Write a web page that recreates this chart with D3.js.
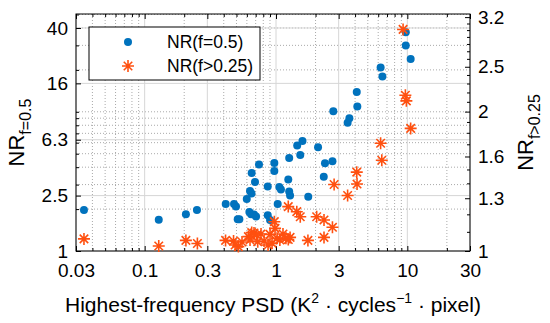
<!DOCTYPE html>
<html>
<head>
<meta charset="utf-8">
<script src="https://cdn.jsdelivr.net/npm/d3@7"></script>
<style>
body { margin: 0; background: #fff; }
text { font-family: "Liberation Sans", Arial, Helvetica, sans-serif; }
</style>
</head>
<body>
<div class="canvas"></div>
<script>
// NR(f=0.5), left axis
const blueX = [0.0345, 0.128, 0.206, 0.250, 0.414, 0.479, 0.496, 0.511, 0.526, 0.599,
  0.627, 0.646, 0.680, 0.705, 0.634, 0.651, 0.692, 0.653, 0.742, 0.865,
  0.865, 0.901, 0.971, 0.971, 1.03, 1.06, 1.09, 1.26, 1.24, 1.26,
  1.28, 1.45, 1.59, 1.53, 1.76, 2.09, 2.31, 2.36, 2.69, 2.73,
  3.51, 3.62, 4.12, 4.16, 6.26, 6.46, 9.73, 9.73, 10.6]
const blueY = [1.97, 1.68, 1.835, 1.97, 2.18, 2.18, 2.09, 1.69, 1.69, 2.36,
  1.91, 1.84, 1.83, 1.77, 2.70, 2.59, 3.13, 3.63, 4.18, 2.91,
  1.81, 1.67, 4.29, 3.75, 2.18, 2.88, 2.77, 4.66, 3.26, 2.68,
  2.50, 5.73, 6.17, 4.89, 2.45, 5.56, 3.42, 4.27, 4.41, 10.1,
  8.35, 8.98, 13.9, 10.9, 20.8, 17.9, 37.2, 29.9, 23.9]

// NR(f>0.25), right axis
const orangeX = [0.0345, 0.128, 0.206, 0.252, 0.413, 0.475, 0.488, 0.517, 0.551, 0.616,
  0.634, 0.653, 0.680, 0.713, 0.726, 0.769, 0.811, 0.870, 0.901, 0.933,
  0.971, 0.983, 1.02, 1.07, 1.13, 1.19, 1.24, 1.28, 1.24, 1.44,
  1.53, 1.75, 2.04, 2.32, 2.32, 2.69, 2.77, 3.51, 4.12, 4.14,
  6.26, 6.39, 9.28, 9.66, 9.83, 10.6]
const orangeY = [1.062, 1.025, 1.054, 1.038, 1.054, 1.051, 1.030, 1.022, 1.046, 1.074,
  1.056, 1.096, 1.094, 1.083, 1.047, 1.088, 1.051, 1.030, 1.086, 1.040,
  1.157, 1.119, 1.065, 1.056, 1.088, 1.065, 1.059, 1.070, 1.247, 1.216,
  1.186, 1.054, 1.186, 1.167, 1.070, 1.125, 1.392, 1.318, 1.480, 1.395,
  1.709, 1.570, 3.01, 2.17, 2.11, 1.84]

const xTicks = [0.03, 0.1, 0.3, 1, 3, 10, 30]
const xMinor = [0.04, 0.05, 0.06, 0.07, 0.08, 0.09, 0.2, 0.4, 0.5, 0.6, 0.7, 0.8, 0.9,
  2, 4, 5, 6, 7, 8, 9, 20]
const yLeftTicks = [1, 2.5, 6.3, 16, 40]
const yLeftMinor = [2, 3, 4, 5, 6, 7, 8, 9, 10, 20, 30, 40, 50]
const yRightTicks = [1, 1.3, 1.6, 2, 2.5, 3.2]
const yRightMinor = [1.1, 1.2, 1.4, 1.5, 1.7, 1.8, 1.9, 2.1, 2.2, 2.3, 2.4, 2.6, 2.7, 2.8, 2.9, 3.0, 3.1]

const W = 550, H = 323
const margin = {top: 14, right: 80, bottom: 72, left: 76}
const gw = W - margin.left - margin.right
const gh = H - margin.top - margin.bottom

const blue = '#0072bd'
const orange = '#ff5010'

const svg = d3.select('.canvas').append('svg')
  .attr('width', W)
  .attr('height', H)

const graph = svg.append('g')
  .attr('transform', `translate(${margin.left}, ${margin.top})`)

const x = d3.scaleLog().domain([0.03, 30]).range([0, gw])
const yL = d3.scaleLog().domain([1, 50.4]).range([gh, 0])
const yR = d3.scaleLog().domain([1, 3.25]).range([gh, 0])

// grid
const grid = graph.append('g')
grid.selectAll('.vminor').data(xMinor).enter().append('line')
  .attr('x1', d => x(d)).attr('x2', d => x(d))
  .attr('y1', 0).attr('y2', gh)
  .attr('stroke', '#aaa').attr('stroke-dasharray', '1,2')
grid.selectAll('.hminor').data(yLeftMinor).enter().append('line')
  .attr('x1', 0).attr('x2', gw)
  .attr('y1', d => yL(d)).attr('y2', d => yL(d))
  .attr('stroke', '#aaa').attr('stroke-dasharray', '1,2')
grid.selectAll('.vmajor').data(xTicks).enter().append('line')
  .attr('x1', d => x(d)).attr('x2', d => x(d))
  .attr('y1', 0).attr('y2', gh)
  .attr('stroke', '#d6d6d6')
grid.selectAll('.hmajor').data(yLeftTicks).enter().append('line')
  .attr('x1', 0).attr('x2', gw)
  .attr('y1', d => yL(d)).attr('y2', d => yL(d))
  .attr('stroke', '#d6d6d6')

// axes
const fmt = d => d
const styleAxis = g => {
  g.select('.domain').remove()
  g.selectAll('line').attr('stroke', '#000')
  g.selectAll('text').attr('font-size', 19).attr('fill', '#000')
    .style('font-family', '"Liberation Sans", Arial, sans-serif')
}

graph.append('g').attr('transform', `translate(0, ${gh})`)
  .call(d3.axisBottom(x).tickValues(xTicks).tickFormat(fmt).tickSize(-5).tickPadding(13))
  .call(styleAxis)
graph.append('g').attr('transform', `translate(0, ${gh})`)
  .call(d3.axisBottom(x).tickValues(xMinor).tickFormat('').tickSize(-3))
  .call(styleAxis)
graph.append('g')
  .call(d3.axisTop(x).tickValues(xTicks).tickFormat('').tickSize(-5))
  .call(styleAxis)
graph.append('g')
  .call(d3.axisTop(x).tickValues(xMinor).tickFormat('').tickSize(-3))
  .call(styleAxis)

graph.append('g')
  .call(d3.axisLeft(yL).tickValues(yLeftTicks).tickFormat(fmt).tickSize(-5).tickPadding(8))
  .call(styleAxis)
graph.append('g')
  .call(d3.axisLeft(yL).tickValues(yLeftMinor).tickFormat('').tickSize(-3))
  .call(styleAxis)

graph.append('g').attr('transform', `translate(${gw}, 0)`)
  .call(d3.axisRight(yR).tickValues(yRightTicks).tickFormat(fmt).tickSize(-5).tickPadding(8))
  .call(styleAxis)
graph.append('g').attr('transform', `translate(${gw}, 0)`)
  .call(d3.axisRight(yR).tickValues(yRightMinor).tickFormat('').tickSize(-3))
  .call(styleAxis)

graph.append('rect')
  .attr('width', gw).attr('height', gh)
  .attr('fill', 'none').attr('stroke', '#000').attr('stroke-width', 1)

// marks
graph.selectAll('.dot').data(blueX).enter().append('circle')
  .attr('cx', d => x(d))
  .attr('cy', (d, i) => yL(blueY[i]))
  .attr('r', 4)
  .attr('fill', blue)

const star = r => {
  const a = r * 0.7071
  return `M0,${-r}V${r}M${-r},0H${r}M${-a},${-a}L${a},${a}M${-a},${a}L${a},${-a}`
}
graph.selectAll('.star').data(orangeX).enter().append('path')
  .attr('transform', (d, i) => `translate(${x(d)}, ${yR(orangeY[i])})`)
  .attr('d', star(6))
  .attr('fill', 'none')
  .attr('stroke', orange)
  .attr('stroke-width', 1.6)

// legend
const legend = svg.append('g').attr('transform', 'translate(89, 27)')
legend.append('rect')
  .attr('width', 171).attr('height', 53)
  .attr('fill', '#fff').attr('stroke', '#000')
legend.append('circle').attr('cx', 39).attr('cy', 15).attr('r', 4).attr('fill', blue)
legend.append('path').attr('transform', 'translate(39, 39)').attr('d', star(6))
  .attr('stroke', orange).attr('stroke-width', 1.6).attr('fill', 'none')
legend.append('text').attr('x', 78).attr('y', 21).attr('font-size', 17.5).text('NR(f=0.5)')
legend.append('text').attr('x', 78).attr('y', 45).attr('font-size', 17.5).text('NR(f>0.25)')

// axis labels
const xl = svg.append('text')
  .attr('x', margin.left + gw / 2).attr('y', 312)
  .attr('text-anchor', 'middle').attr('font-size', 21)
xl.append('tspan').text('Highest-frequency PSD (K')
xl.append('tspan').attr('font-size', 14).attr('dy', -9).text('2')
xl.append('tspan').attr('dy', 9).text(' · cycles')
xl.append('tspan').attr('font-size', 14).attr('dy', -9).text('−1')
xl.append('tspan').attr('dy', 9).text(' · pixel)')

const yl = svg.append('text')
  .attr('transform', `translate(24, ${margin.top + gh / 2}) rotate(-90)`)
  .attr('text-anchor', 'middle').attr('font-size', 22)
yl.append('tspan').text('NR')
yl.append('tspan').attr('font-size', 16).attr('dy', 7).text('f=0.5')

const yr = svg.append('text')
  .attr('transform', `translate(533, ${margin.top + gh / 2}) rotate(-90)`)
  .attr('text-anchor', 'middle').attr('font-size', 22)
yr.append('tspan').text('NR')
yr.append('tspan').attr('font-size', 16).attr('dy', 7).text('f>0.25')
</script>
</body>
</html>
